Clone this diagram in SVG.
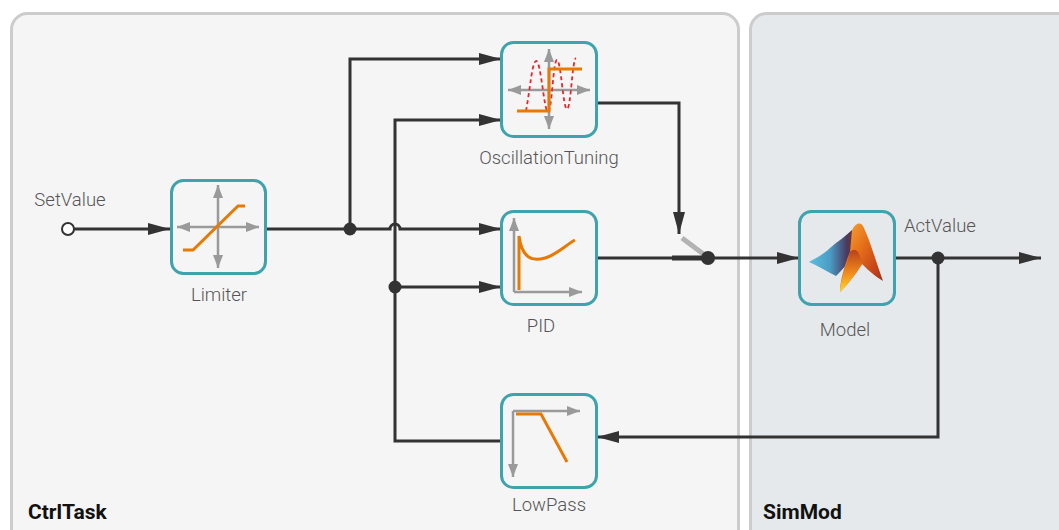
<svg xmlns="http://www.w3.org/2000/svg" width="1059" height="530" viewBox="0 0 1059 530">
  <defs>
    <style>
      .panel { stroke: #cccccc; stroke-width: 3; }
      .box { fill: none; stroke: #3fa3ae; stroke-width: 3; }
      .wire { fill: none; stroke: #333333; stroke-width: 3; }
      .dot { fill: #333333; }
      .axis { fill: none; stroke: #9a9a9a; stroke-width: 2.5; }
      .curve { fill: none; stroke: #e67a05; stroke-width: 3; stroke-linejoin: miter; }
      .label { font-family: Roboto, "Liberation Sans", sans-serif; font-weight: 300; font-size: 18.5px; fill: #555555; }
      .title { font-family: Roboto, "Liberation Sans", sans-serif; font-weight: 700; font-size: 21px; fill: #111111; }
    </style>
    <marker id="arrow" markerUnits="userSpaceOnUse" markerWidth="23" markerHeight="13" refX="22" refY="6" orient="auto">
      <path d="M0,0 L22,6 L0,12 z" fill="#333333"/>
    </marker>
    <marker id="ax" markerUnits="userSpaceOnUse" markerWidth="14" markerHeight="10" refX="13" refY="5" orient="auto">
      <path d="M0,0 L13,5 L0,10 z" fill="#9a9a9a"/>
    </marker>
    <linearGradient id="peak" x1="0" y1="0" x2="1" y2="1">
      <stop offset="0" stop-color="#f7b23a"/>
      <stop offset="0.4" stop-color="#e8731a"/>
      <stop offset="0.75" stop-color="#c4421a"/>
      <stop offset="1" stop-color="#8a2a10"/>
    </linearGradient>
    <linearGradient id="skirt" x1="0" y1="0" x2="1" y2="0">
      <stop offset="0" stop-color="#5bbfe0"/>
      <stop offset="0.45" stop-color="#4a9cc4"/>
      <stop offset="0.8" stop-color="#4a3a60"/>
      <stop offset="1" stop-color="#7a2a1a"/>
    </linearGradient>
    <linearGradient id="front" x1="0" y1="0" x2="0" y2="1">
      <stop offset="0" stop-color="#b8401a"/>
      <stop offset="0.55" stop-color="#f08a1c"/>
      <stop offset="1" stop-color="#ffd82a"/>
    </linearGradient>
  </defs>

  <rect x="0" y="0" width="1059" height="530" fill="#ffffff"/>

  <!-- containers -->
  <g id="CtrlTask">
    <rect class="panel" x="11.5" y="13.5" width="727" height="540" rx="16" fill="#f5f5f5"/>
    <text class="title" x="28" y="519">CtrlTask</text>
  </g>
  <g id="SimMod">
    <rect class="panel" x="750.5" y="13.5" width="340" height="540" rx="16" fill="#e5e9ec"/>
    <text class="title" x="763" y="519">SimMod</text>
  </g>

  <!-- connectors -->
  <g id="connectors">
    <path class="wire" d="M74,229 H170" marker-end="url(#arrow)"/>
    <path class="wire" d="M266,229 H390 A5,5 0 0 1 400,229 H501" marker-end="url(#arrow)"/>
    <path class="wire" d="M350,229 V59 H501" marker-end="url(#arrow)"/>
    <path class="wire" d="M501,441 H395 V120 H501" marker-end="url(#arrow)"/>
    <path class="wire" d="M395,287 H501" marker-end="url(#arrow)"/>
    <path class="wire" d="M597,103 H679 V234" marker-end="url(#arrow)"/>
    <path class="wire" d="M597,258 H672"/>
    <path d="M672,258 H708" stroke="#333333" stroke-width="5" fill="none"/>
    <path d="M682,238 L706,256" stroke="#b3b3b3" stroke-width="5" fill="none"/>
    <path class="wire" d="M708,258 H799" marker-end="url(#arrow)"/>
    <path class="wire" d="M895,258 H1041" marker-end="url(#arrow)"/>
    <path class="wire" d="M938,258 V437 H597" marker-end="url(#arrow)"/>
    <circle class="dot" cx="350" cy="229" r="6.5"/>
    <circle class="dot" cx="395" cy="287" r="6.5"/>
    <circle class="dot" cx="708" cy="258" r="7"/>
    <circle class="dot" cx="938" cy="258" r="6.5"/>
  </g>

  <!-- input port -->
  <g id="SetValue">
    <circle cx="68" cy="229" r="6" fill="#ffffff" stroke="#333333" stroke-width="2"/>
    <text class="label" x="70" y="206" text-anchor="middle">SetValue</text>
  </g>

  <!-- output label -->
  <g id="ActValue">
    <text class="label" x="904" y="232">ActValue</text>
  </g>

  <g id="Limiter">
    <rect class="box" x="171.5" y="180.5" width="94" height="93" rx="12"/>
    <path class="axis" d="M218,227 H259" marker-end="url(#ax)"/>
    <path class="axis" d="M218,227 H177" marker-end="url(#ax)"/>
    <path class="axis" d="M218,227 V185" marker-end="url(#ax)"/>
    <path class="axis" d="M218,227 V268" marker-end="url(#ax)"/>
    <path class="curve" d="M183,250 H193 L238,206 H245"/>
    <text class="label" x="219" y="301" text-anchor="middle">Limiter</text>
  </g>

  <g id="OscillationTuning">
    <rect class="box" x="501.5" y="42.5" width="95" height="94" rx="12"/>
    <path class="axis" d="M549,90 H590" marker-end="url(#ax)"/>
    <path class="axis" d="M549,90 H508" marker-end="url(#ax)"/>
    <path class="axis" d="M549,90 V49" marker-end="url(#ax)"/>
    <path class="axis" d="M549,90 V129" marker-end="url(#ax)"/>
    <path d="M526,111 C530,90 532,62 536,61 C541,60 544,112 548,112 C552,112 553,60 557,60 C561,60 563,109 567,109 C571,109 572,60 576,58" fill="none" stroke="#e8262b" stroke-width="1.8" stroke-dasharray="4,3"/>
    <path class="curve" d="M517,111 H549 V69 H582"/>
    <text class="label" x="549" y="164" text-anchor="middle">OscillationTuning</text>
  </g>

  <g id="PID">
    <rect class="box" x="501.5" y="211.5" width="95" height="93" rx="12"/>
    <path class="axis" d="M514,292 H582" marker-end="url(#ax)"/>
    <path class="axis" d="M514,292 V218" marker-end="url(#ax)"/>
    <path class="curve" d="M519,290 V236 C522,258 532,262 545,258 C556,255 566,245 575,240"/>
    <text class="label" x="541" y="332" text-anchor="middle">PID</text>
  </g>

  <g id="LowPass">
    <rect class="box" x="501.5" y="394.5" width="95" height="93" rx="12"/>
    <path class="axis" d="M513,411 H580" marker-end="url(#ax)"/>
    <path class="axis" d="M513,411 V477" marker-end="url(#ax)"/>
    <path class="curve" d="M516,414 H541 L567,462"/>
    <text class="label" x="549" y="511" text-anchor="middle">LowPass</text>
  </g>

  <g id="Model">
    <rect class="box" x="799.5" y="211.5" width="95" height="93" rx="12"/>
    <!-- membrane surface: blue skirt, orange peak, yellow front fold -->
    <path d="M809,262 C816,258 824,254 830,248 C838,241 846,236 852,230 L856,250 C850,262 842,270 836,276 C828,272 818,266 809,262 Z" fill="url(#skirt)"/>
    <path d="M852,230 C855,224 860,221 863,226 C870,240 876,262 883,281 C876,277 868,270 862,264 C856,274 848,284 840,292 C840,282 844,266 850,252 Z" fill="url(#peak)"/>
    <path d="M850,252 C846,266 840,282 840,292 C848,284 856,274 862,264 C860,252 856,246 850,252 Z" fill="url(#front)"/>
    <text class="label" x="845" y="336" text-anchor="middle">Model</text>
  </g>
</svg>
